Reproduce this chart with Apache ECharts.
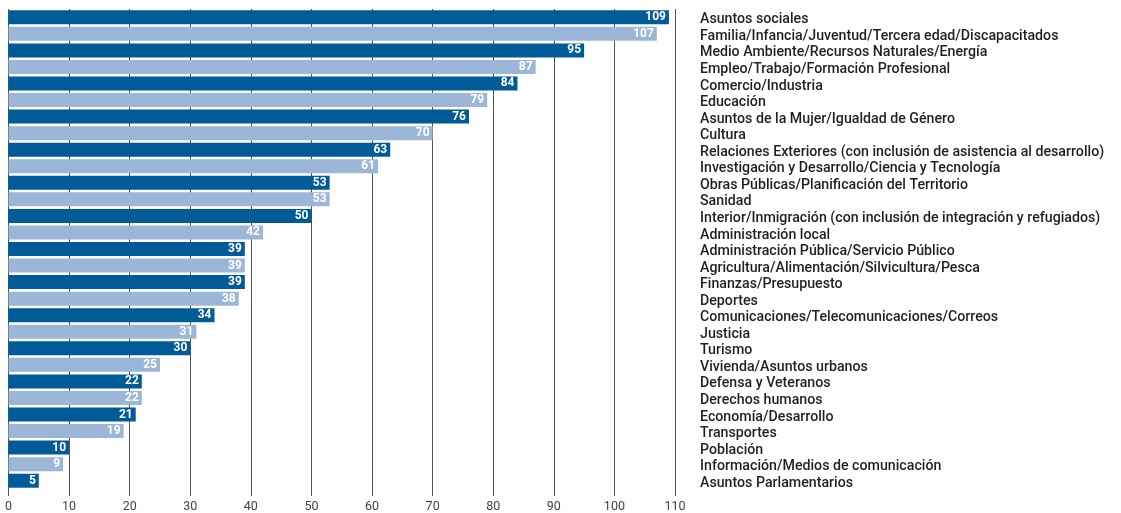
<!DOCTYPE html>
<html>
<head>
<meta charset="utf-8">
<script src="https://cdn.jsdelivr.net/npm/echarts@6/dist/echarts.min.js"></script>
<style>
html, body { margin: 0; padding: 0; background: #fff; }
#chart { width: 1121px; height: 513px; }
</style>
</head>
<body>
<div id="chart"></div>
<script>
// temas, de arriba a abajo
const categories = [
  'Asuntos sociales',
  'Familia/Infancia/Juventud/Tercera edad/Discapacitados',
  'Medio Ambiente/Recursos Naturales/Energía',
  'Empleo/Trabajo/Formación Profesional',
  'Comercio/Industria',
  'Educación',
  'Asuntos de la Mujer/Igualdad de Género',
  'Cultura',
  'Relaciones Exteriores (con inclusión de asistencia al desarrollo)',
  'Investigación y Desarrollo/Ciencia y Tecnología',
  'Obras Públicas/Planificación del Territorio',
  'Sanidad',
  'Interior/Inmigración (con inclusión de integración y refugiados)',
  'Administración local',
  'Administración Pública/Servicio Público',
  'Agricultura/Alimentación/Silvicultura/Pesca',
  'Finanzas/Presupuesto',
  'Deportes',
  'Comunicaciones/Telecomunicaciones/Correos',
  'Justicia',
  'Turismo',
  'Vivienda/Asuntos urbanos',
  'Defensa y Veteranos',
  'Derechos humanos',
  'Economía/Desarrollo',
  'Transportes',
  'Población',
  'Información/Medios de comunicación',
  'Asuntos Parlamentarios'
]
const values = [109, 107, 95, 87, 84, 79, 76, 70, 63, 61, 53, 53, 50, 42, 39, 39, 39, 38, 34, 31, 30, 25, 22, 22, 21, 19, 10, 9, 5]
const xTicks = [0, 10, 20, 30, 40, 50, 60, 70, 80, 90, 100, 110]
const colors = ['#015b98', '#9cb6d8']

const myChart = echarts.init(document.getElementById('chart'))
const option = {
  animation: false,
  grid: {
    left: 8.5,
    right: 446,
    top: 9,
    bottom: 24
  },
  xAxis: {
    type: 'value',
    min: xTicks[0],
    max: xTicks[xTicks.length - 1],
    interval: 10,
    axisLine: { show: false },
    axisTick: {
      show: true,
      length: 7,
      lineStyle: { color: '#555', width: 1 }
    },
    axisLabel: {
      color: '#444',
      fontFamily: 'Roboto',
      fontSize: 12.5,
      margin: 11
    },
    splitLine: {
      lineStyle: { color: '#555', width: 1 }
    }
  },
  yAxis: {
    type: 'category',
    data: categories,
    inverse: true,
    position: 'right',
    axisLine: { show: false },
    axisTick: { show: false },
    axisLabel: {
      interval: 0,
      margin: 25,
      align: 'left',
      formatter: (v) => '{t|' + v + '}',
      rich: {
        t: {
          padding: [5, 0, 0, 0],
          color: '#231f20',
          fontFamily: 'Roboto',
          fontWeight: 500,
          fontSize: 14.2
        }
      }
    }
  },
  series: [
    {
      type: 'bar',
      barWidth: 14,
      data: values.map((v, i) => ({
        value: v,
        itemStyle: { color: colors[i % 2] }
      })),
      label: {
        show: true,
        position: 'insideRight',
        distance: 3,
        color: '#fff',
        fontFamily: 'Roboto',
        fontWeight: 'bold',
        fontSize: 12
      }
    }
  ]
}
myChart.setOption(option)
</script>
</body>
</html>
